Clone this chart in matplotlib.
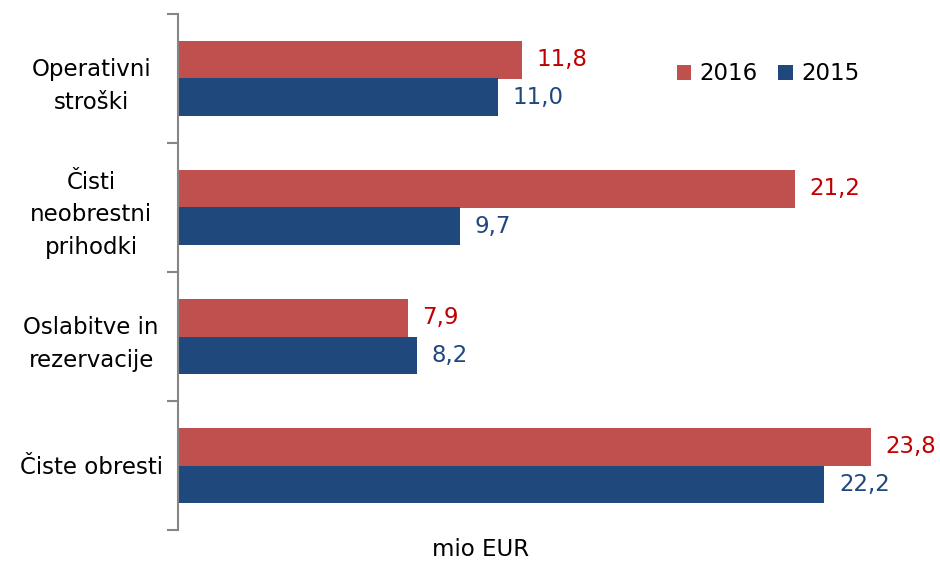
import matplotlib
matplotlib.use("Agg")
import matplotlib.pyplot as plt
import numpy as np

categories = ["Čiste obresti", "Oslabitve in\nrezervacije", "Čisti\nneobrestni\nprihodki", "Operativni\nstroški"]
values_2016 = [23.8, 7.9, 21.2, 11.8]
values_2015 = [22.2, 8.2, 9.7, 11.0]

red = "#C0504D"
blue = "#1F497D"
red_txt = "#C00000"
axis_gray = "#868686"

plt.rcParams["font.family"] = ["DejaVu Sans"]
fs = 16.5

fig = plt.figure(figsize=(9.4, 5.62), dpi=100)
ax = fig.add_axes([178 / 940, 1 - 530 / 562, 757 / 940, 516 / 562])

y = np.arange(len(categories))
h = 0.287
ax.barh(y + h / 2, values_2016, height=h, color=red, label="2016")
ax.barh(y - h / 2, values_2015, height=h, color=blue, label="2015")

for yi, v in zip(y, values_2016):
    ax.text(v + 0.5, yi + h / 2, f"{v:.1f}".replace(".", ","), va="center", ha="left",
            color=red_txt, fontsize=fs)
for yi, v in zip(y, values_2015):
    ax.text(v + 0.5, yi - h / 2, f"{v:.1f}".replace(".", ","), va="center", ha="left",
            color=blue, fontsize=fs)

ax.set_xlim(0, 26)
ax.set_ylim(-0.5, len(categories) - 0.5)

for s in ["top", "right", "bottom"]:
    ax.spines[s].set_visible(False)
ax.spines["left"].set_color(axis_gray)
ax.spines["left"].set_linewidth(1.5)
ax.set_xticks([])

ax.set_yticks(np.arange(-0.5, len(categories)), labels=[""] * (len(categories) + 1))
ax.tick_params(axis="y", which="major", length=8, width=1.5, color=axis_gray)
ax.set_yticks(y, minor=True)
ax.set_yticklabels(categories, minor=True, fontsize=fs, ha="center", linespacing=1.55)
ax.tick_params(axis="y", which="minor", length=0, pad=62.5)

fig.text(481 / 940, 1 - 550 / 562, "mio EUR", ha="center", va="center", fontsize=fs)

ax.legend(loc="center", bbox_to_anchor=(768 / 940, 1 - 74 / 562), bbox_transform=fig.transFigure,
          ncol=2, frameon=False, fontsize=fs, handlelength=0.65, handleheight=0.65,
          handletextpad=0.35, columnspacing=0.9)

fig.savefig("out.png", dpi=100)
